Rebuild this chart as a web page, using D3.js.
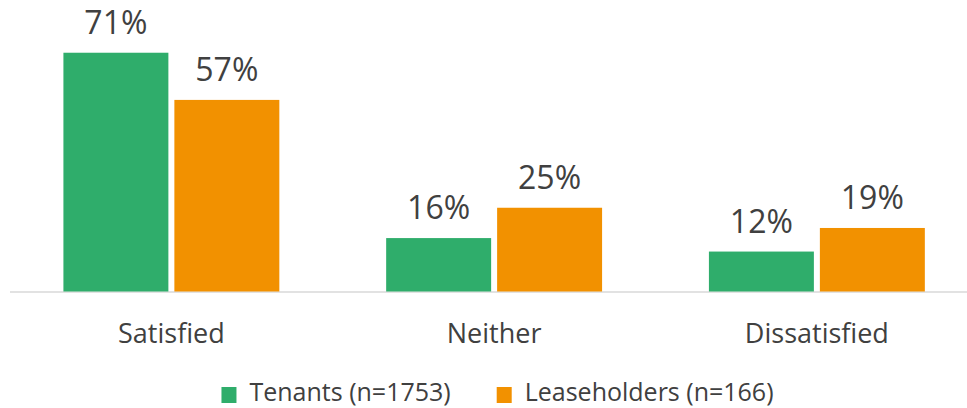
<!DOCTYPE html>
<html>
<head>
<meta charset="utf-8">
<script src="https://cdn.jsdelivr.net/npm/d3@7"></script>
<style>
  html, body { margin: 0; padding: 0; background: #ffffff; }
  svg { display: block; }
  text { font-family: "Open Sans", "Noto Sans", sans-serif; fill: #404040; }
</style>
</head>
<body>
<svg id="chart" width="967" height="408"></svg>
<script>
const categories = ["Satisfied", "Neither", "Dissatisfied"];
const seriesNames = ["Tenants (n=1753)", "Leaseholders (n=166)"];
const tenants = [71, 16, 12];
const leaseholders = [57, 25, 19];
const seriesValues = [tenants, leaseholders];
const colors = ["#2fad6b", "#f29100"];

const svg = d3.select("#chart");

const x = d3.scaleBand()
  .domain(categories)
  .range([10, 978.25])
  .paddingInner(0.331)
  .paddingOuter(0.1655);

const xSub = d3.scaleBand()
  .domain(seriesNames)
  .range([0, x.bandwidth()])
  .paddingInner(0.054)
  .paddingOuter(0);

const y = d3.scaleLinear()
  .domain([0, 80])
  .range([292, 292 - 80 * 3.37]);

// axis baseline
const xAxis = d3.axisBottom(x).tickSize(0).tickPadding(0).tickFormat("");
const axisG = svg.append("g").attr("transform", "translate(0,292)").call(xAxis);
axisG.select(".domain").attr("stroke", "#d9d9d9").attr("stroke-width", 1.5)
  .attr("d", "M10,0H967");
axisG.selectAll(".tick").remove();

// bars
const groups = svg.append("g").selectAll("g")
  .data(categories)
  .join("g")
  .attr("transform", d => `translate(${x(d)},0)`);

groups.selectAll("rect")
  .data((c, i) => seriesNames.map((s, j) => ({ s, j, v: seriesValues[j][i] })))
  .join("rect")
  .attr("x", d => xSub(d.s))
  .attr("width", xSub.bandwidth())
  .attr("y", d => y(d.v))
  .attr("height", d => y(0) - y(d.v) - 0.5)
  .attr("fill", d => colors[d.j]);

groups.selectAll("text.val")
  .data((c, i) => seriesNames.map((s, j) => ({ s, j, v: seriesValues[j][i] })))
  .join("text")
  .attr("class", "val")
  .attr("x", d => xSub(d.s) + xSub.bandwidth() / 2)
  .attr("y", d => y(d.v) - 19)
  .attr("text-anchor", "middle")
  .style("font-size", "32px")
  .text(d => d.v + "%");

// category labels
svg.append("g").selectAll("text")
  .data(categories)
  .join("text")
  .attr("x", d => x(d) + x.bandwidth() / 2)
  .attr("y", 343)
  .attr("text-anchor", "middle")
  .style("font-size", "27px")
  .text(d => d);

// legend (centered as a whole)
const legend = svg.append("g");
const items = legend.selectAll("g")
  .data(seriesNames)
  .join("g");
items.append("rect")
  .attr("x", 0).attr("y", 387).attr("width", 15).attr("height", 16)
  .attr("fill", (d, i) => colors[i]);
items.append("text")
  .attr("x", 28).attr("y", 401)
  .style("font-size", "25px")
  .text(d => d);
let offset = 0;
const itemGap = 46;
items.each(function () {
  const g = d3.select(this);
  g.attr("transform", `translate(${offset},0)`);
  const w = g.select("text").node().getComputedTextLength();
  offset += 28 + w + itemGap;
});
const totalW = offset - itemGap;
legend.attr("transform", `translate(${497.5 - totalW / 2},0)`);
</script>
</body>
</html>
